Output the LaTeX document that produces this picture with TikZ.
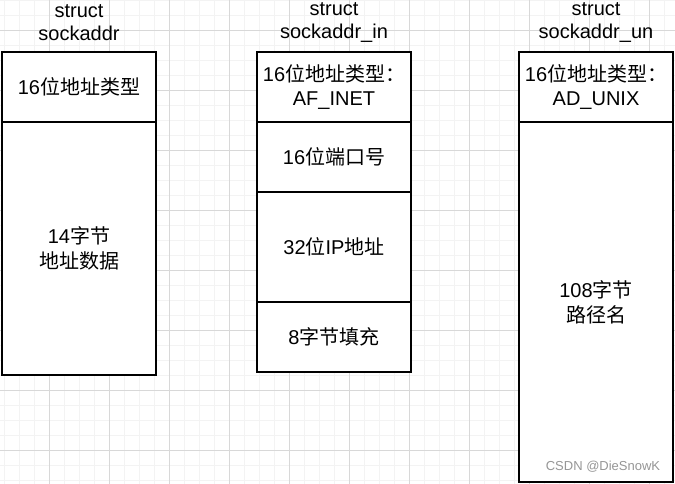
\documentclass[tikz,border=0pt]{standalone}
\usepackage{fontspec}
\setmainfont{Liberation Sans}
\newfontfamily\cjk{Noto Sans CJK SC}
\usetikzlibrary{positioning}
\definecolor{gridminor}{RGB}{243,243,243}
\definecolor{gridmajor}{RGB}{216,216,216}
\definecolor{markgray}{RGB}{150,150,150}

\begin{document}
\begin{tikzpicture}[
  x=0.75pt, y=-0.75pt,
  field/.style={
    draw, fill=white, line width=1.1pt, outer sep=0pt, inner sep=0pt,
    minimum width=115.5pt, minimum height=52.5pt, align=center,
    font=\fontsize{15}{18.5}\selectfont
  },
  title/.style={
    align=center, inner sep=0pt, font=\fontsize{15}{17.25}\selectfont
  }
  ]
  \useasboundingbox (0,0) rectangle (675,484);
  % grid
  \foreach \x in {4,19,...,675} \draw[gridminor, line width=0.75pt] (\x,0) -- (\x,484);
  \foreach \y in {1,16,...,484} \draw[gridminor, line width=0.75pt] (0,\y) -- (675,\y);
  \foreach \x in {49,109,...,675} \draw[gridmajor, line width=0.75pt] (\x,0) -- (\x,484);
  \foreach \y in {31,91,...,484} \draw[gridmajor, line width=0.75pt] (0,\y) -- (675,\y);

  % struct sockaddr
  \node[title] (t1) at (79,22.5) {struct\\sockaddr};
  \node[field, anchor=north] (a1) at (79,52) {16{\cjk 位地址类型}};
  \node[field, below=0pt of a1, minimum height=189.75pt] (a2)
    {14{\cjk 字节}\\{\cjk 地址数据}};

  % struct sockaddr_in
  \node[title] (t2) at (334,22.5) {struct\\sockaddr\_in};
  \node[field, anchor=north] (b1) at (334,52) {16{\cjk 位地址类型：}\\AF\_INET};
  \node[field, below=0pt of b1] (b2) {16{\cjk 位端口号}};
  \node[field, below=0pt of b2, minimum height=82.5pt] (b3) {32{\cjk 位}IP{\cjk 地址}};
  \node[field, below=0pt of b3] (b4) {8{\cjk 字节填充}};

  % struct sockaddr_un
  \node[title] (t3) at (596,22.5) {struct\\sockaddr\_un};
  \node[field, anchor=north] (c1) at (596,52) {16{\cjk 位地址类型：}\\AD\_UNIX};
  \node[field, below=0pt of c1, minimum height=270pt] (c2)
    {108{\cjk 字节}\\{\cjk 路径名}};

  \node[text=markgray, font=\fontsize{9.75}{11}\selectfont, inner sep=0pt]
    (mark) at (603,467) {CSDN @DieSnowK};
\end{tikzpicture}
\end{document}
